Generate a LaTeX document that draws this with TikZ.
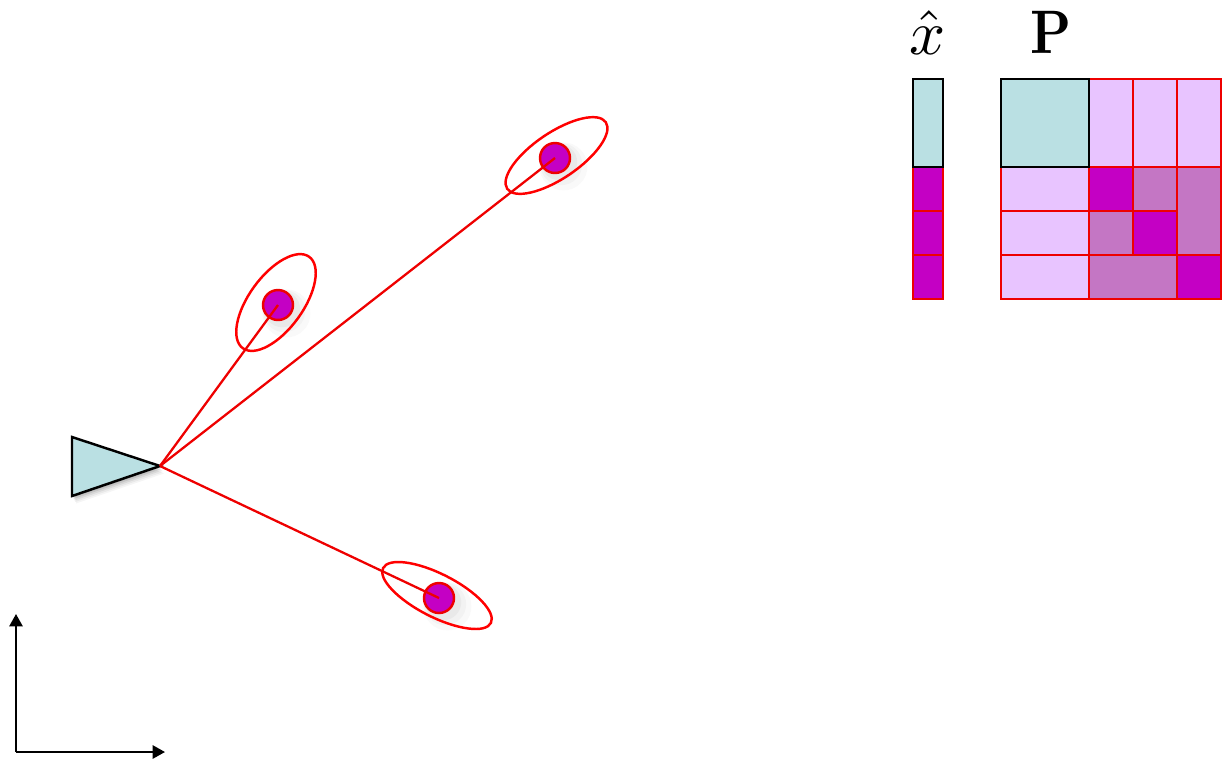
\documentclass[tikz,border=0pt]{standalone}
\usepackage{xcolor}
\usepackage{amsmath}
\usetikzlibrary{arrows.meta, shapes.geometric, shadows}
\definecolor{statecol}{HTML}{BAE0E3}
\definecolor{lmcol}{HTML}{C400C4}
\definecolor{crosscol}{HTML}{C476C4}
\definecolor{palecol}{HTML}{E8C4FF}
\definecolor{redline}{HTML}{EE0000}
\tikzset{
  lmdot/.style={circle, draw=redline, fill=lmcol, line width=1.4pt, minimum size=0.6cm, inner sep=0pt,
    drop shadow={shadow xshift=3pt, shadow yshift=-3pt, opacity=0.05, shadow scale=1.6},
    drop shadow={shadow xshift=2.5pt, shadow yshift=-2.5pt, opacity=0.06, shadow scale=1.4},
    drop shadow={shadow xshift=2pt, shadow yshift=-2pt, opacity=0.08, shadow scale=1.2}},
  lmell/.style={ellipse, draw=red, line width=1.4pt, inner sep=0pt},
  ray/.style={draw=redline, line width=1.3pt},
  axis/.style={-{Triangle[length=7pt, width=7.5pt]}, black, line width=1.2pt},
  statecell/.style={draw=black, fill=statecol, line width=1.4pt},
  cell/.style={draw=redline, line width=1.4pt}
}

\begin{document}
\begin{tikzpicture}[x=0.02cm, y=-0.02cm]
  \useasboundingbox (0,0) rectangle (1226,762);

  % Sensor
  \coordinate (tip) at (160,466);
  \foreach \s/\o in {5/0.04, 4/0.05, 3/0.07, 2/0.09, 1/0.11} {
    \fill[black, opacity=\o] (72+\s*0.8,437+\s*1.5) -- (160+\s*0.8,466+\s*1.5) -- (72+\s*0.8,496+\s*1.5) -- cycle;
  }
  \draw[statecell] (72,437) -- (tip) -- (72,496) -- cycle;

  % Landmarks
  \node[lmdot] (lmA) at (278,305) {};
  \node[lmdot] (lmB) at (555,158) {};
  \node[lmdot] (lmC) at (439,598) {};
  \node[lmell, rotate=54, minimum width=2.26cm, minimum height=1.08cm] (ellA) at (276,302.5) {};
  \node[lmell, rotate=34, minimum width=2.38cm, minimum height=0.92cm] (ellB) at (556.5,155.5) {};
  \node[lmell, rotate=-27, minimum width=2.42cm, minimum height=0.86cm] (ellC) at (437,595.5) {};
  \foreach \lm in {lmA, lmB, lmC} {
    \draw[ray] (tip) -- (\lm.center);
  }

  % Axes
  \coordinate (origin) at (16,752);
  \coordinate (axisx) at (165,752);
  \coordinate (axisy) at (16,614);
  \draw[axis] (origin) -- (axisx);
  \draw[axis] (origin) -- (axisy);

  % State vector
  \node[scale=3.6] (xhat) at (928,33) {$\hat{x}$};
  \foreach \ya/\yb in {167/211, 211/255, 255/299} {
    \draw[cell, fill=lmcol] (913,\ya) rectangle (943,\yb);
  }
  \draw[statecell] (913,79) rectangle (943,167);

  % Covariance
  \node[scale=3.5, xscale=0.85] (covP) at (1051,32.5) {$\mathbf{P}$};
  \foreach \xa/\xb in {1089/1133, 1133/1177, 1177/1221} {
    \draw[cell, fill=palecol] (\xa,79) rectangle (\xb,167);
  }
  \foreach \ya/\yb in {167/211, 211/255, 255/299} {
    \draw[cell, fill=palecol] (1001,\ya) rectangle (1089,\yb);
  }
  \draw[cell, fill=lmcol] (1089,167) rectangle (1133,211);
  \draw[cell, fill=crosscol] (1133,167) rectangle (1177,211);
  \draw[cell, fill=crosscol] (1177,167) rectangle (1221,255);
  \draw[cell, fill=crosscol] (1089,211) rectangle (1133,255);
  \draw[cell, fill=lmcol] (1133,211) rectangle (1177,255);
  \draw[cell, fill=crosscol] (1089,255) rectangle (1177,299);
  \draw[cell, fill=lmcol] (1177,255) rectangle (1221,299);
  \draw[statecell] (1001,79) rectangle (1089,167);
\end{tikzpicture}
\end{document}
